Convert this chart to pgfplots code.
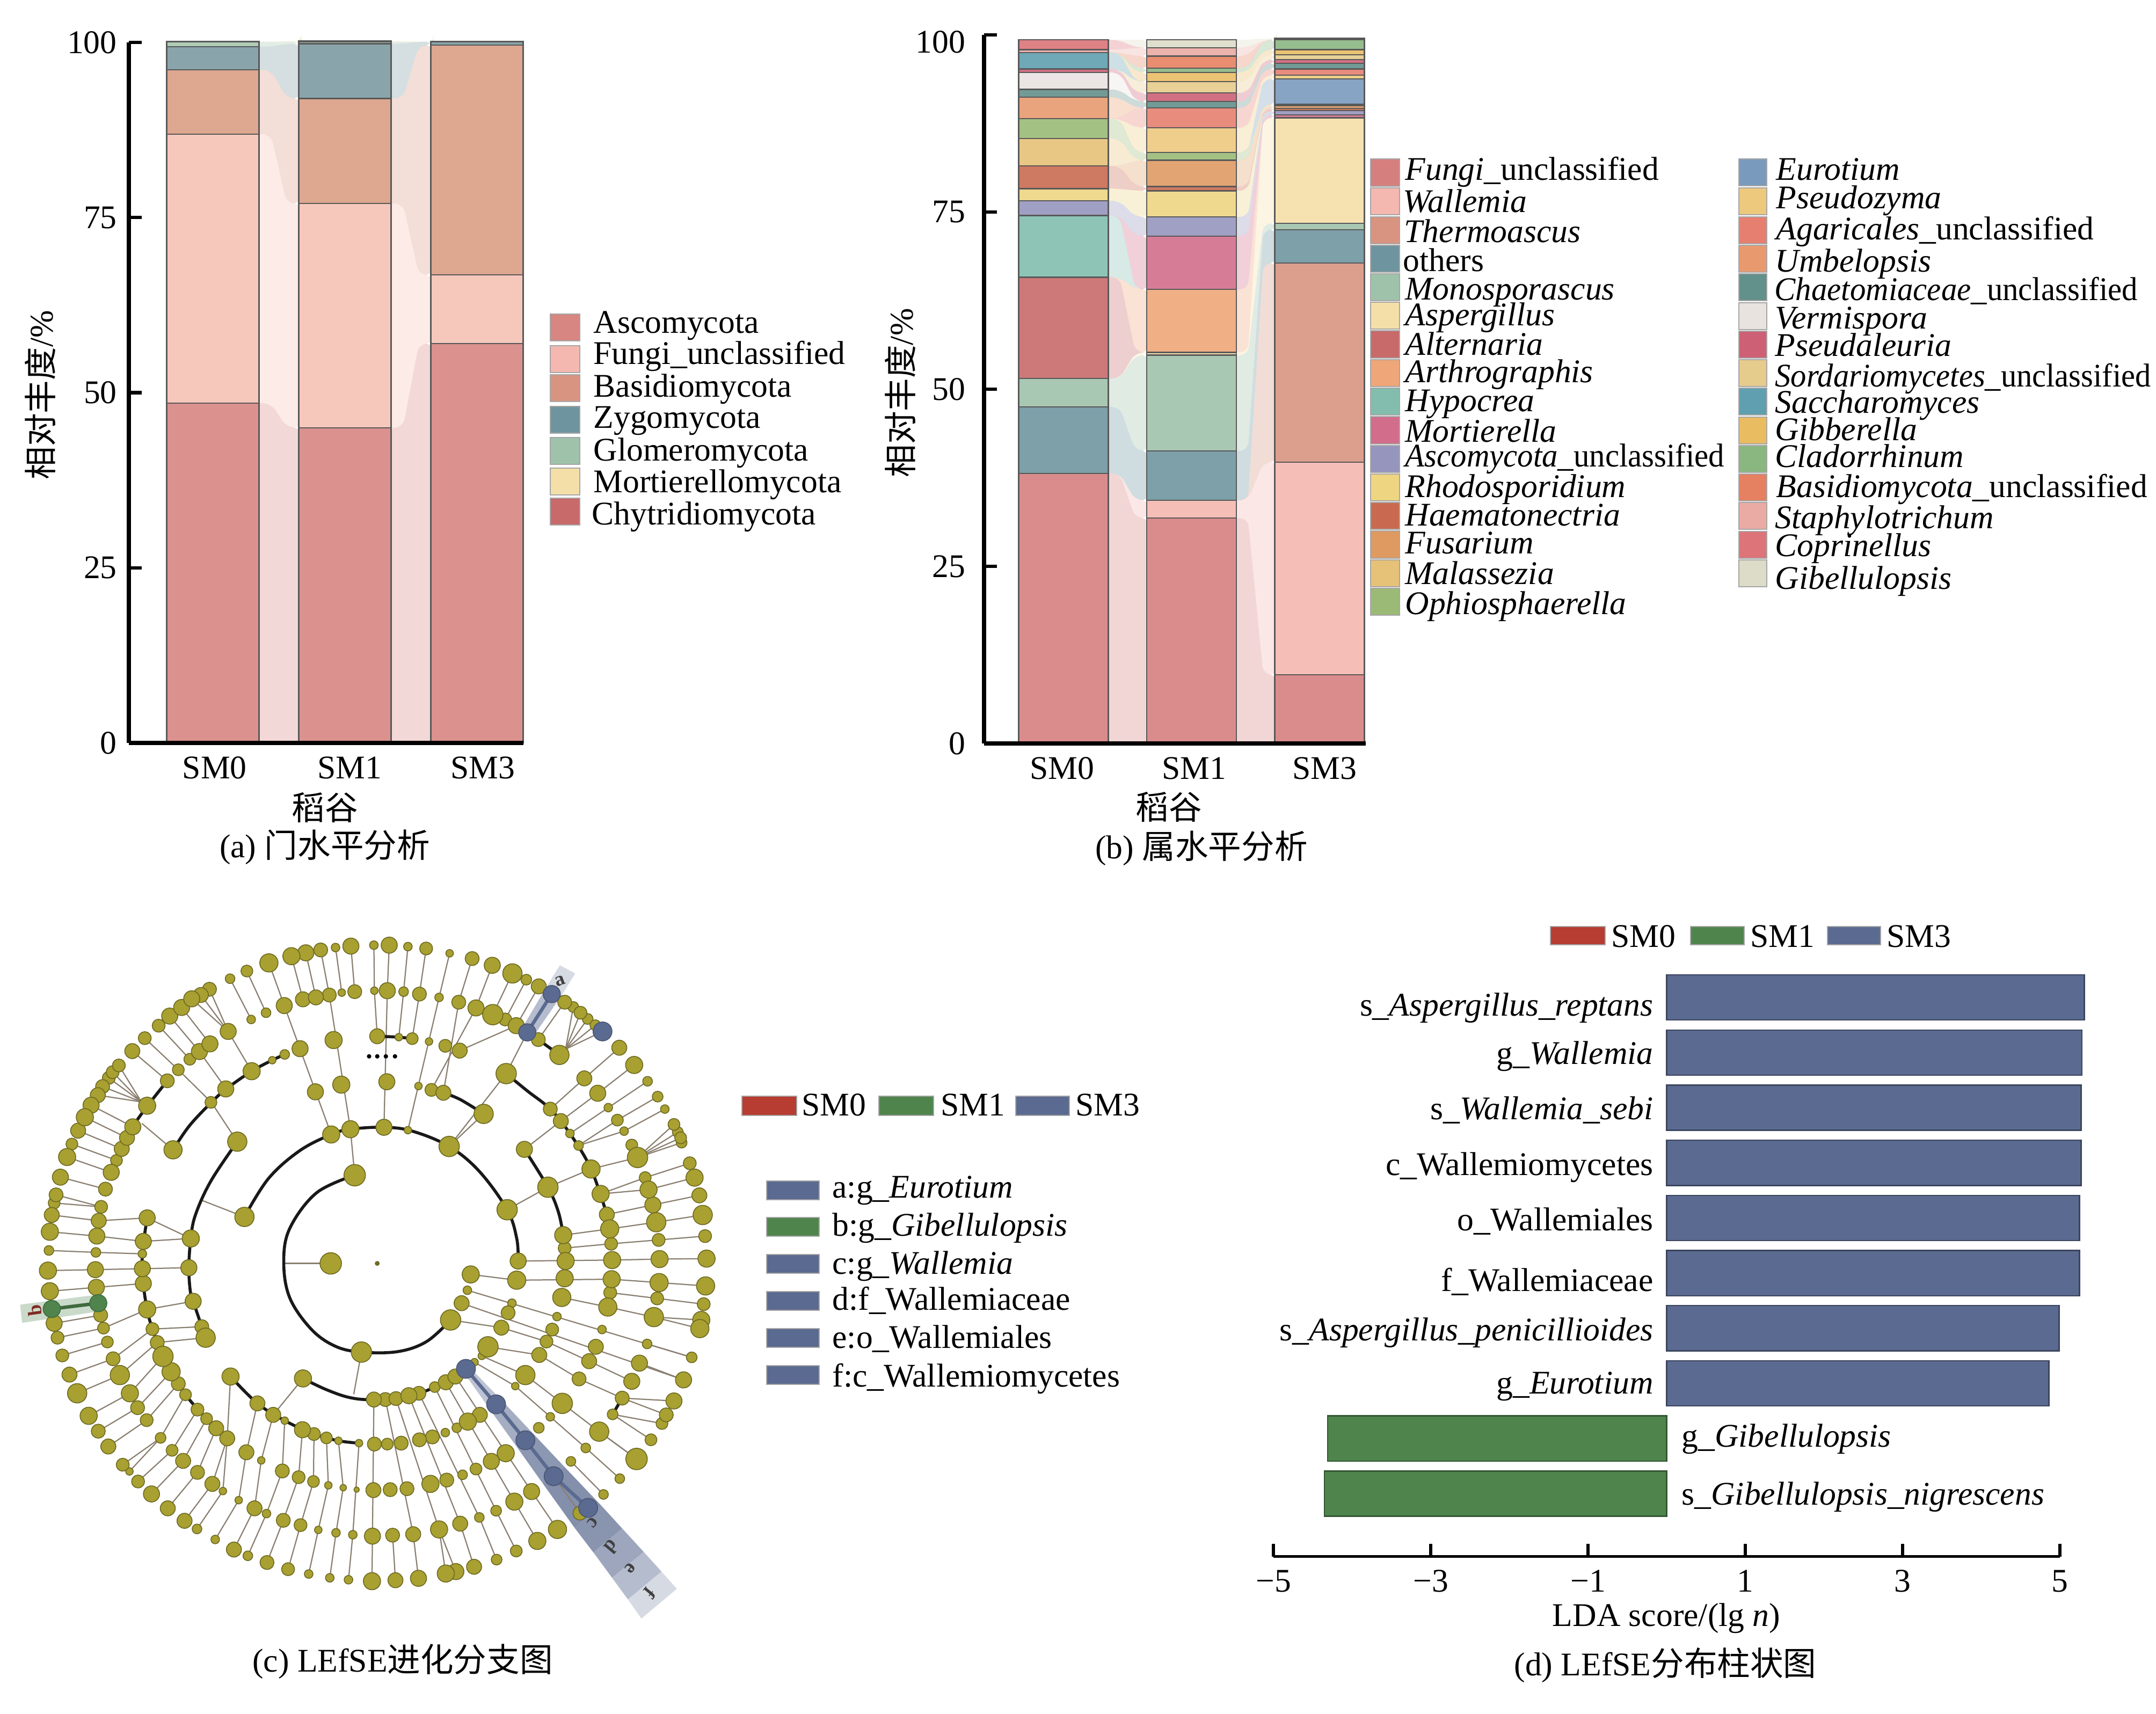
\documentclass[border=0pt]{standalone}
\usepackage{pgfplots}
\usepackage{pgfplotstable}
\pgfplotsset{compat=1.18}
\usepackage{fontspec}
\setmainfont{Liberation Serif}
\newfontfamily\cjk{Noto Sans CJK SC}
% phylum colours
\definecolor{aAsco}{HTML}{D78681}\definecolor{aFung}{HTML}{F5C2B5}\definecolor{aBasi}{HTML}{D99D84}
\definecolor{aZygo}{HTML}{7C9BA2}\definecolor{aGlom}{HTML}{A6C8AD}\definecolor{aMort}{HTML}{F5E1AA}\definecolor{aChyt}{HTML}{C76E6A}
% genus colours
\definecolor{g01}{HTML}{D67F7F}\definecolor{g02}{HTML}{F4B8B0}\definecolor{g03}{HTML}{D89480}\definecolor{g04}{HTML}{6E959F}
\definecolor{g05}{HTML}{9FC2AB}\definecolor{g06}{HTML}{F5DFA8}\definecolor{g07}{HTML}{C86A6A}\definecolor{g08}{HTML}{EFA678}
\definecolor{g09}{HTML}{82BDAE}\definecolor{g10}{HTML}{D26D8C}\definecolor{g11}{HTML}{9695BE}\definecolor{g12}{HTML}{EDD582}
\definecolor{g13}{HTML}{C96A50}\definecolor{g14}{HTML}{DF9A62}\definecolor{g15}{HTML}{E6C178}\definecolor{g16}{HTML}{9ABA76}
\definecolor{g17}{HTML}{7A9ABD}\definecolor{g18}{HTML}{EDC97E}\definecolor{g19}{HTML}{E67F70}\definecolor{g20}{HTML}{E89A6E}
\definecolor{g21}{HTML}{62908A}\definecolor{g22}{HTML}{E9E3E0}\definecolor{g23}{HTML}{CD6075}\definecolor{g24}{HTML}{E5CB8C}
\definecolor{g25}{HTML}{5F9FB0}\definecolor{g26}{HTML}{E9BC62}\definecolor{g27}{HTML}{8AB680}\definecolor{g28}{HTML}{E58060}
\definecolor{g29}{HTML}{E9ABA3}\definecolor{g30}{HTML}{DC7479}\definecolor{g31}{HTML}{DDDCC8}
\definecolor{kRed}{HTML}{B73C32}\definecolor{kGreen}{HTML}{4F854D}\definecolor{kBlue}{HTML}{5B6A90}
\definecolor{nOlive}{HTML}{A8A030}\definecolor{nEdge}{HTML}{6E6A22}\definecolor{nLine}{HTML}{8A7F70}
\newcommand\fs{\fontsize{7.7}{9}\selectfont}
\newcommand\TL[3]{\node[anchor=base west,inner sep=0pt] at ({#1*.125pt},{(3192-#2)*.125pt}) {#3};}
\newcommand\TR[3]{\node[anchor=base east,inner sep=0pt] at ({#1*.125pt},{(3192-#2)*.125pt}) {#3};}
\newcommand\TC[3]{\node[anchor=center,inner sep=0pt] at ({#1*.125pt},{(3192-#2)*.125pt}) {#3};}
\newcommand\SW[6]{\fill[#6,draw=black!35,line width=.25pt] ({#1*.125pt},{(3192-#2)*.125pt}) rectangle ({#3*.125pt},{(3192-#4)*.125pt});}
% stacks: \G{colour}{SM0}{SM1}{SM3}
\newcommand\phylumlist{%
\G{aAsco}{48.5}{45.0}{57.0}\G{aFung}{38.4}{32.0}{9.8}\G{aBasi}{9.2}{15.0}{32.8}\G{aZygo}{3.3}{7.8}{0.5}%
\G{aGlom}{0.7}{0.3}{0.0}\G{aMort}{0.0}{0.1}{0.0}\G{aChyt}{0.0}{0.0}{0.0}}
\newcommand\genuslist{%
\G{g01}{38.1}{31.8}{9.7}\G{g02}{0.0}{2.5}{30.0}\G{g03}{0.0}{0.0}{28.1}\G{g04}{9.4}{7.0}{4.7}%
\G{g05}{4.0}{13.5}{0.9}\G{g06}{0.0}{0.4}{14.9}\G{g07}{14.3}{0.0}{0.0}\G{g08}{0.0}{8.9}{0.0}%
\G{g09}{8.7}{0.0}{0.0}\G{g10}{0.0}{7.5}{0.4}\G{g11}{2.1}{2.7}{0.6}\G{g12}{1.7}{3.7}{0.0}%
\G{g13}{3.2}{0.6}{0.3}\G{g14}{0.0}{3.7}{0.4}\G{g15}{3.9}{0.0}{0.2}\G{g16}{2.8}{1.1}{0.0}%
\G{g17}{0.0}{0.0}{3.6}\G{g18}{0.0}{3.5}{0.5}\G{g19}{0.0}{2.8}{0.9}\G{g20}{3.0}{0.0}{0.0}%
\G{g21}{1.1}{0.9}{0.8}\G{g22}{2.4}{0.0}{0.0}\G{g23}{0.5}{1.2}{0.5}\G{g24}{0.0}{1.6}{0.7}%
\G{g25}{2.3}{0.0}{0.0}\G{g26}{0.0}{1.3}{0.7}\G{g27}{0.0}{0.6}{1.4}\G{g28}{0.0}{1.7}{0.0}%
\G{g29}{0.4}{1.2}{0.0}\G{g30}{1.4}{0.0}{0.0}\G{g31}{0.0}{1.1}{0.2}}
\pgfplotsset{ribbon/.style={forget plot,draw=none,fill opacity=.32,rounded corners=2pt,mark=none}}
\newcommand\ribbons[1]{%
 \gdef\aC{0}\gdef\bC{0}\gdef\cC{0}%
 \def\G##1##2##3##4{%
  \pgfmathsetmacro\aN{\aC+##2}\pgfmathsetmacro\bN{\bC+##3}\pgfmathsetmacro\cN{\cC+##4}%
  \ifdim\dimexpr ##2pt+##3pt\relax>0pt
  \edef\tmp{\noexpand\addplot[ribbon,fill=##1] coordinates {(.33,\aC)(.44,\aC)(.56,\bC)(.67,\bC)(.67,\bN)(.56,\bN)(.44,\aN)(.33,\aN)};}\tmp
  \fi
  \ifdim\dimexpr ##3pt+##4pt\relax>0pt
  \edef\tmp{\noexpand\addplot[ribbon,fill=##1] coordinates {(1.33,\bC)(1.44,\bC)(1.56,\cC)(1.67,\cC)(1.67,\cN)(1.56,\cN)(1.44,\bN)(1.33,\bN)};}\tmp
  \fi
  \xdef\aC{\aN}\xdef\bC{\bN}\xdef\cC{\cN}}%
 #1}
\newcommand\stackbars[1]{\def\G##1##2##3##4{\edef\tmp{\noexpand\addplot[fill=##1!90!white] coordinates {(0,##2)(1,##3)(2,##4)};}\tmp}#1}
\pgfplotsset{stackaxis/.style={scale only axis,clip=false,ymin=0,ymax=100,axis on top,
  ybar stacked,bar width=.7,
  axis lines=left,axis line style={-,line width=.9pt},
  ytick={0,25,50,75,100},yticklabels={0,25,50,75,100},
  major tick length=3pt,tick align=inside,
  y tick style={black,line width=.8pt},x tick style={draw=none},
  tick label style={font=\fs,inner sep=0pt},
  yticklabel style={xshift=-2.6pt},xticklabel style={yshift=-3pt},
  xticklabels={SM0,SM1,SM3},
  every axis plot/.append style={draw=black!65,line width=.3pt,bar shift=0pt}}}
% cladogram nodes: x y r
\pgfplotstableread{
x y r
780 68 8
812 68 15
851 71 8
889 75 12
938 85 7
985 96 13
1027 110 15
1069 127 18
1098 140 10
1124 154 14
1178 187 13
1196 197 10
1211 209 12
1226 222 10
1242 235 10
1292 282 14
1323 318 16
1351 352 9
1372 384 10
1387 410 8
1406 442 11
1414 458 10
1420 470 11
1422 480 10
1439 523 12
1449 553 16
1459 590 14
1466 631 18
1471 675 12
1474 722 16
1472 779 17
1468 817 12
1463 850 16
1460 868 17
1443 928 10
1426 975 15
1406 1019 15
1390 1048 13
1381 1066 11
1358 1100 11
1328 1140 20
1293 1181 9
1259 1214 9
1210 1253 13
1163 1287 17
1121 1311 16
1077 1332 11
1036 1350 10
989 1365 14
951 1375 15
930 1379 16
873 1389 15
825 1393 14
776 1395 16
727 1392 8
688 1388 8
644 1380 8
601 1370 12
557 1356 13
517 1342 9
488 1329 14
449 1308 8
411 1286 9
385 1269 14
350 1243 14
316 1213 15
288 1187 12
270 1166 7
256 1152 12
226 1114 14
205 1082 13
185 1050 16
161 1003 18
145 964 14
130 924 12
120 887 12
113 857 15
104 790 16
100 747 16
102 705 9
104 666 16
108 631 14
113 606 11
117 589 13
126 552 15
140 510 16
150 483 11
163 455 14
177 427 16
190 402 15
204 381 14
214 363 13
227 345 12
235 333 12
248 319 12
276 289 14
302 262 12
331 236 12
354 216 15
379 198 15
400 180 15
419 172 14
437 160 13
480 138 9
515 122 11
561 105 17
608 91 16
638 84 15
669 78 13
700 73 8
732 70 15
781 163 7
808 163 15
842 165 9
875 170 13
916 177 8
957 187 13
993 199 15
1028 213 19
1054 223 12
1077 236 15
1123 265 13
1167 297 18
1219 346 14
1247 377 15
1269 407 8
1288 433 11
1302 456 8
1318 485 11
1330 511 19
1346 553 11
1353 578 16
1362 610 15
1369 646 18
1374 683 12
1376 723 16
1375 772 17
1371 805 12
1364 844 18
1350 900 9
1334 940 15
1318 978 15
1298 1013 13
1278 1047 10
1250 1083 18
1222 1117 9
1191 1145 9
1109 1208 15
1073 1229 16
1035 1248 10
1000 1262 9
960 1275 14
916 1287 16
862 1297 14
819 1299 13
777 1301 15
736 1298 8
701 1294 8
664 1288 7
627 1278 12
591 1268 13
556 1254 8
531 1243 14
498 1226 7
465 1207 7
443 1192 14
412 1168 13
382 1144 14
359 1122 11
335 1096 10
306 1059 12
287 1033 13
271 1003 16
250 965 18
236 931 13
224 896 11
216 867 11
210 840 13
201 782 15
199 745 15
200 709 9
202 675 15
206 643 14
211 614 12
220 577 13
232 542 15
243 517 11
254 493 14
265 470 14
277 447 15
307 403 16
349 351 13
372 328 11
396 306 11
416 290 15
438 274 15
476 248 15
524 223 8
555 209 9
593 194 15
632 181 14
659 177 14
687 172 13
713 167 7
740 165 13
787 258 14
832 260 7
860 263 11
895 269 7
929 278 12
959 288 14
807 353 15
873 362 7
900 370 12
925 376 14
1009 420 18
1056 336 19
1148 410 13
1170 435 14
1189 461 8
1207 486 9
1233 535 17
1253 587 16
1266 630 14
1272 660 17
1275 691 12
1277 725 16
1276 765 16
1273 793 12
1268 823 17
1094 494 15
1143 573 19
1175 673 16
1178 700 12
1180 727 16
1178 763 16
1172 803 17
1058 620 19
1081 727 15
1078 767 17
982 755 16
975 788 8
963 815 14
940 850 19
1068 815 8
1060 835 13
1046 866 14
1018 906 19
990 938 7
1005 925 7
1162 843 8
1152 870 12
1140 895 12
1125 923 14
1096 965 18
1075 988 7
1243 906 14
1256 870 8
1229 936 14
1208 973 13
1173 1024 19
1148 1052 8
1124 1075 10
1055 1128 16
1025 1145 15
993 1161 11
965 1173 9
932 1184 13
898 1192 16
849 1202 13
814 1204 13
779 1205 14
744 1204 5
716 1200 6
685 1195 7
654 1187 11
623 1178 12
589 1165 13
545 1143 7
1001 1048 14
976 1062 16
953 1075 9
929 1085 8
902 1094 13
875 1100 13
837 1107 13
808 1109 11
781 1109 13
749 1107 7
706 1102 7
681 1096 11
655 1088 12
631 1079 15
594 1060 7
570 1048 14
537 1024 14
514 1126 14
474 1097 14
451 1076 14
431 1056 11
412 1037 12
387 1006 11
372 983 13
357 958 17
340 926 19
328 897 13
318 869 12
307 828 16
299 774 15
297 743 15
297 712 8
299 686 15
307 637 15
481 968 16
632 972 16
780 1016 14
804 1016 13
826 1014 13
853 1008 15
874 1003 13
907 990 10
930 980 14
950 968 14
754 917 19
403 811 15
421 864 13
429 887 18
394 741 15
398 680 16
510 635 18
495 478 18
361 495 17
740 548 20
690 732 20
691 463 16
731 452 16
801 448 15
851 454 7
937 488 19
658 374 15
712 359 16
696 266 16
626 284 15
594 296 9
568 308 7
525 331 16
471 368 15
440 396 11
}\nodeT
\begin{document}
\begin{tikzpicture}[font=\fs]
\useasboundingbox (0,0) rectangle (502pt,399pt);
% ---------- panel a ----------
\begin{axis}[at={(30pt,226pt)},anchor=south west,width=91.875pt,height=163.125pt,scale only axis,hide axis,clip=false,
  xmin=-.636,xmax=2.352,ymin=0,ymax=100]
\ribbons{\phylumlist}
\end{axis}
\begin{axis}[stackaxis,at={(30pt,226pt)},anchor=south west,width=91.875pt,height=163.125pt,
  xmin=-.636,xmax=2.352,xtick={0.014,1.035,2.043}]
\stackbars{\phylumlist}
\end{axis}
\TC{75}{736}{\rotatebox{90}{{\cjk 相对丰度}/\%}}
\TC{605}{1504}{\cjk 稻谷}
\TC{605}{1578}{(a) {\cjk 门水平分析}}
\SW{1025}{585}{1080}{635}{}{aAsco}\SW{1025}{644}{1080}{694}{}{g02}\SW{1025}{698}{1080}{748}{}{g03}
\SW{1025}{757}{1080}{807}{}{g04}\SW{1025}{815}{1080}{865}{}{g05}\SW{1025}{872}{1080}{922}{}{g06}\SW{1025}{928}{1080}{978}{}{g07}
\TL{1104}{621}{Ascomycota}\TL{1104}{679}{Fungi\_unclassified}\TL{1104}{740}{Basidiomycota}\TL{1104}{798}{Zygomycota}
\TL{1104}{859}{Glomeromycota}\TL{1104}{918}{Mortierellomycota}\TL{1101}{978}{Chytridiomycota}
% ---------- panel b ----------
\begin{axis}[at={(229.125pt,225.875pt)},anchor=south west,width=88.875pt,height=165pt,scale only axis,hide axis,clip=false,
  xmin=-.62,xmax=2.36,ymin=0,ymax=100]
\ribbons{\genuslist}
\end{axis}
\begin{axis}[stackaxis,at={(229.125pt,225.875pt)},anchor=south west,width=88.875pt,height=165pt,
  xmin=-.62,xmax=2.36,xtick={-0.012,1.019,2.038},yticklabel style={xshift=-1.6pt},
  yticklabels={0,25,50,75,\raisebox{-1.75pt}[5pt][0pt]{100}}]
\stackbars{\genuslist}
\end{axis}
\TC{1677}{732}{\rotatebox{90}{{\cjk 相对丰度}/\%}}
\TC{2177}{1503}{\cjk 稻谷}
\TC{2238}{1580}{(b) {\cjk 属水平分析}}
% legend column 1
\SW{2553}{296}{2607}{347}{}{g01}\SW{2553}{350}{2607}{400}{}{g02}\SW{2553}{404}{2607}{454}{}{g03}\SW{2553}{457}{2607}{507}{}{g04}
\SW{2553}{510}{2607}{560}{}{g05}\SW{2553}{563}{2607}{613}{}{g06}\SW{2553}{616}{2607}{667}{}{g07}\SW{2553}{670}{2607}{720}{}{g08}
\SW{2553}{723}{2607}{773}{}{g09}\SW{2553}{776}{2607}{827}{}{g10}\SW{2553}{830}{2607}{880}{}{g11}\SW{2553}{883}{2607}{933}{}{g12}
\SW{2553}{936}{2607}{986}{}{g13}\SW{2553}{989}{2607}{1040}{}{g14}\SW{2553}{1043}{2607}{1093}{}{g15}\SW{2553}{1096}{2607}{1146}{}{g16}
\TL{2616}{336}{\textit{Fungi}\_unclassified}\TL{2612}{396}{\textit{Wallemia}}\TL{2614}{452}{\textit{Thermoascus}}\TL{2612}{506}{others}
\TL{2616}{559}{\textit{Monosporascus}}\TL{2616}{607}{\textit{Aspergillus}}\TL{2616}{662}{\textit{Alternaria}}\TL{2616}{713}{\textit{Arthrographis}}
\TL{2616}{767}{\textit{Hypocrea}}\TL{2616}{824}{\textit{Mortierella}}\TL{2616}{870}{\scalebox{.955}[1]{\textit{Ascomycota}\_unclassified}}\TL{2616}{927}{\textit{Rhodosporidium}}
\TL{2616}{980}{\textit{Haematonectria}}\TL{2616}{1032}{\textit{Fusarium}}\TL{2616}{1089}{\textit{Malassezia}}\TL{2616}{1145}{\textit{Ophiosphaerella}}
% legend column 2
\SW{3239}{296}{3291}{346}{}{g17}\SW{3239}{350}{3291}{400}{}{g18}\SW{3239}{404}{3291}{454}{}{g19}\SW{3239}{457}{3291}{507}{}{g20}
\SW{3239}{510}{3291}{560}{}{g21}\SW{3239}{564}{3291}{614}{}{g22}\SW{3239}{617}{3291}{667}{}{g23}\SW{3239}{670}{3291}{720}{}{g24}
\SW{3239}{723}{3291}{773}{}{g25}\SW{3239}{777}{3291}{827}{}{g26}\SW{3239}{830}{3291}{880}{}{g27}\SW{3239}{883}{3291}{933}{}{g28}
\SW{3239}{936}{3291}{986}{}{g29}\SW{3239}{990}{3291}{1040}{}{g30}\SW{3239}{1043}{3291}{1093}{}{g31}
\TL{3307}{336}{\textit{Eurotium}}\TL{3307}{389}{\textit{Pseudozyma}}\TL{3307}{447}{\textit{Agaricales}\_unclassified}\TL{3305}{507}{\textit{Umbelopsis}}
\TL{3304}{560}{\scalebox{.955}[1]{\textit{Chaetomiaceae}\_unclassified}}\TL{3305}{613}{\textit{Vermispora}}\TL{3305}{664}{\textit{Pseudaleuria}}\TL{3305}{721}{\scalebox{.95}[1]{\textit{Sordariomycetes}\_unclassified}}
\TL{3305}{770}{\textit{Saccharomyces}}\TL{3305}{821}{\textit{Gibberella}}\TL{3305}{871}{\textit{Cladorrhinum}}\TL{3307}{927}{\textit{Basidiomycota}\_unclassified}
\TL{3305}{985}{\textit{Staphylotrichum}}\TL{3305}{1037}{\textit{Coprinellus}}\TL{3305}{1098}{\textit{Gibellulopsis}}
% ---------- panel c ----------
\begin{axis}[at={(0pt,186.5pt)},anchor=north west,width=175pt,height=175pt,scale only axis,hide axis,clip=false,
  xmin=0,xmax=1568,ymin=0,ymax=1568,y dir=reverse]
% highlight bands
\addplot[forget plot,draw=none,fill=kBlue!40!white] coordinates {(978,947)(1047,1018)(1023,1038)(966,957)};
\addplot[forget plot,draw=none,fill=kBlue!55!white] coordinates {(1047,1018)(1113,1088)(1079,1116)(1023,1038)};
\addplot[forget plot,draw=none,fill=kBlue!70!white] coordinates {(1113,1088)(1177,1156)(1133,1192)(1079,1116)};
\addplot[forget plot,draw=none,fill=kBlue!75!white] coordinates {(1177,1156)(1255,1238)(1199,1284)(1133,1192)};
\addplot[forget plot,draw=none,fill=kBlue!72!white] coordinates {(1255,1238)(1298,1285)(1238,1335)(1199,1284)};
\addplot[forget plot,draw=none,fill=kBlue!60!white] coordinates {(1298,1285)(1343,1334)(1277,1388)(1238,1335)};
\addplot[forget plot,draw=none,fill=kBlue!45!white] coordinates {(1343,1334)(1380,1375)(1310,1433)(1277,1388)};
\addplot[forget plot,draw=none,fill=kBlue!25!white] coordinates {(1380,1375)(1412,1411)(1338,1473)(1310,1433)};
\addplot[forget plot,draw=none,fill=kBlue!45!white] coordinates {(1090,240)(1140,155)(1172,172)(1110,262)};
\addplot[forget plot,draw=none,fill=kBlue!25!white] coordinates {(1140,155)(1168,110)(1200,127)(1172,172)};
\addplot[forget plot,draw=none,fill=kGreen!30!white] coordinates {(42,818)(205,797)(208,832)(46,856)};
% thin branches (x y x2 y2)
\addplot[forget plot,nLine,line width=.28pt,mark=none,quiver={u=\thisrow{x2}-\thisrow{x},v=\thisrow{y2}-\thisrow{y}}] table {
x y x2 y2
780 68 781 163
812 68 808 163
851 71 842 165
889 75 875 170
938 85 916 177
985 96 957 187
1027 110 993 199
1069 127 1028 213
1098 140 1054 223
1124 154 1077 236
1178 187 1123 265
1196 197 1180 285
1211 209 1180 285
1226 222 1180 285
1242 235 1180 285
1257 248 1180 285
1292 282 1219 346
1323 318 1247 377
1351 352 1269 407
1372 384 1288 433
1387 410 1302 456
1406 442 1330 511
1414 458 1330 511
1420 470 1330 511
1422 480 1330 511
1439 523 1346 553
1449 553 1353 578
1459 590 1362 610
1466 631 1369 646
1471 675 1374 683
1474 722 1376 723
1472 779 1375 772
1468 817 1371 805
1463 850 1364 844
1460 868 1364 844
1443 928 1350 900
1426 975 1334 940
1406 1019 1298 1013
1390 1048 1298 1013
1381 1066 1278 1047
1358 1100 1278 1047
1328 1140 1250 1083
1293 1181 1222 1117
1259 1214 1191 1145
1210 1253 1155 1176
1163 1287 1109 1208
1121 1311 1073 1229
1077 1332 1035 1248
1036 1350 1000 1262
989 1365 960 1275
951 1375 916 1287
930 1379 916 1287
873 1389 862 1297
825 1393 819 1299
776 1395 777 1301
727 1392 736 1298
688 1388 701 1294
644 1380 664 1288
601 1370 627 1278
557 1356 591 1268
517 1342 556 1254
488 1329 531 1243
449 1308 498 1226
411 1286 465 1207
385 1269 443 1192
350 1243 412 1168
316 1213 382 1144
288 1187 359 1122
270 1166 335 1096
256 1152 335 1096
226 1114 306 1059
205 1082 287 1033
185 1050 271 1003
161 1003 250 965
145 964 236 931
130 924 224 896
120 887 216 867
113 857 210 840
104 790 201 782
100 747 199 745
102 705 200 709
104 666 202 675
108 631 206 643
113 606 211 614
117 589 211 614
126 552 220 577
140 510 232 542
150 483 243 517
163 455 254 493
177 427 265 470
190 402 277 447
204 381 295 395
214 363 295 395
227 345 295 395
235 333 295 395
248 319 295 395
276 289 349 351
302 262 372 328
331 236 396 306
354 216 416 290
379 198 438 274
400 180 476 248
419 172 476 248
437 160 476 248
480 138 524 223
515 122 555 209
561 105 593 194
608 91 632 181
638 84 659 177
669 78 687 172
700 73 713 167
732 70 740 165
781 163 787 258
808 163 801 448
842 165 832 260
875 170 860 263
916 177 851 454
957 187 925 376
993 199 900 370
1077 236 959 288
1100 250 1056 336
1056 336 937 488
1009 420 937 488
1219 346 1148 410
1247 377 1170 435
1269 407 1189 461
1288 433 1207 486
1302 456 1207 486
1330 511 1233 535
1346 553 1253 587
1353 578 1253 587
1362 610 1266 630
1369 646 1272 660
1374 683 1275 691
1376 723 1277 725
1375 772 1276 765
1371 805 1273 793
1364 844 1268 823
1170 435 1094 494
1233 535 1143 573
1143 573 1058 620
1272 660 1175 673
1275 691 1178 700
1277 725 1081 727
1276 765 1078 767
1268 823 1172 803
1078 767 982 755
975 788 1443 928
963 815 1426 975
940 850 1046 866
1046 866 1140 895
1140 895 1229 936
1229 936 1318 978
1018 906 1125 923
1125 923 1208 973
1208 973 1298 1013
1005 925 1096 965
1096 965 1173 1024
1173 1024 1250 1083
1250 1083 1328 1140
990 938 1075 988
1075 988 1148 1052
1148 1052 1222 1117
950 968 1109 1208
930 980 1073 1229
907 990 1035 1248
874 1003 1000 1262
853 1008 960 1275
826 1014 916 1287
804 1016 862 1297
780 1016 777 1301
749 1107 736 1298
706 1102 716 1200
716 1200 701 1294
681 1096 685 1195
685 1195 664 1288
655 1088 654 1187
654 1187 627 1278
631 1079 623 1178
623 1178 591 1268
594 1060 589 1165
589 1165 556 1254
570 1048 545 1143
545 1143 531 1243
537 1024 514 1126
514 1126 498 1226
481 968 474 1097
474 1097 443 1192
465 1207 474 1097
451 1076 412 1168
431 1056 382 1144
412 1037 359 1122
387 1006 335 1096
372 983 306 1059
357 958 287 1033
340 926 271 1003
328 897 250 965
318 869 236 931
429 887 328 897
421 864 318 869
403 811 307 828
307 828 216 867
394 741 297 743
398 680 299 686
398 680 307 637
299 774 201 782
297 743 199 745
297 712 200 709
299 686 202 675
307 637 206 643
510 635 420 600
495 478 441 396
361 495 296 440
691 463 593 194
731 452 740 548
731 452 687 172
754 917 738 1005
632 972 570 1048
690 732 592 732
525 331 476 248
472 368 416 290
441 396 372 328
};
% thick arcs
\pgfplotsset{arcline/.style={forget plot,black!90,line width=.7pt,smooth,tension=.6,mark=none}}
\addplot[arcline] coordinates {(740,548)(660,585)(604,660)(592,732)(605,805)(650,870)(700,905)(754,917)(830,916)(890,895)(940,850)};
\addplot[arcline] coordinates {(510,635)(560,555)(625,497)(691,463)(731,452)(801,448)(860,456)(937,488)(1000,540)(1058,620)(1078,680)(1081,727)};
\addplot[arcline] coordinates {(495,478)(440,560)(408,630)(398,680)(394,741)(397,790)(403,811)(421,864)};
\addplot[arcline] coordinates {(361,495)(395,445)(441,396)(472,368)(525,331)(568,308)(594,296)};
\addplot[arcline] coordinates {(1094,494)(1143,573)(1165,625)(1175,673)};
\addplot[arcline] coordinates {(632,972)(680,995)(730,1012)(780,1016)(853,1008)(907,990)(972,952)};
\addplot[arcline] coordinates {(481,968)(537,1024)(594,1060)(655,1088)(706,1102)(749,1107)};
\addplot[arcline] coordinates {(1056,336)(1100,372)(1148,410)(1189,461)(1233,535)(1266,630)};
\addplot[arcline] coordinates {(925,376)(960,390)(1009,420)};
\addplot[arcline] coordinates {(1123,265)(1167,297)};
\addplot[arcline] coordinates {(787,258)(832,260)(860,263)};
\addplot[arcline] coordinates {(349,351)(308,403)(277,447)(254,493)(232,542)};
\addplot[arcline] coordinates {(307,637)(297,712)(299,774)(307,828)(318,869)(340,926)(357,958)(387,1006)(431,1056)(474,1097)};
\addplot[arcline] coordinates {(1298,1013)(1278,1047)};
% coloured clades
\addplot[forget plot,kBlue,line width=.8pt,mark=none] coordinates {(972,952)(1035,1026)(1096,1101)(1155,1176)(1227,1242)};
\addplot[forget plot,kBlue,line width=.8pt,mark=none] coordinates {(1100,250)(1151,170)};
\addplot[forget plot,kGreen!80!black,line width=.8pt,mark=none] coordinates {(108,827)(205,815)};
% dots
\addplot[forget plot,only marks,mark=*,mark size=.3pt,black] coordinates {(770,300)(787,300)(805,300)(824,300)};
\addplot[forget plot,only marks,mark=*,mark size=.35pt,nEdge] coordinates {(787,732)};
% nodes, one plot per node size
\pgfplotsinvokeforeach{5,...,20}{
\addplot[forget plot,only marks,mark=*,mark size={#1*0.125},mark options={draw=nEdge,fill=nOlive,line width=.2pt},
  restrict expr to domain={abs(\thisrow{r}-#1)}{0:0.4}] table {\nodeT};
}
\addplot[forget plot,only marks,mark=*,mark size=2pt,mark options={draw=kBlue!80!black,fill=kBlue,line width=.2pt}] coordinates {(1151,170)(1100,250)};
\addplot[forget plot,only marks,mark=*,mark size=2.2pt,mark options={draw=kBlue!80!black,fill=kBlue,line width=.2pt}] coordinates {(1257,248)(972,952)(1035,1026)(1096,1101)(1155,1176)(1227,1242)};
\addplot[forget plot,only marks,mark=*,mark size=2pt,mark options={draw=kGreen!80!black,fill=kGreen,line width=.2pt}] coordinates {(108,827)(205,815)};
\node[rotate=20,font=\fontsize{4.6}{5}\selectfont\bfseries,text=black!75] at (axis cs:1168,143) {a};
\node[rotate=98,font=\fontsize{4.6}{5}\selectfont\bfseries,text=kRed!70!black] at (axis cs:72,830) {b};
\node[rotate=230,font=\fontsize{4.6}{5}\selectfont\bfseries,text=black!75] at (axis cs:1236,1273) {c};
\node[rotate=230,font=\fontsize{4.6}{5}\selectfont\bfseries,text=black!75] at (axis cs:1276,1323) {d};
\node[rotate=230,font=\fontsize{4.6}{5}\selectfont\bfseries,text=black!75] at (axis cs:1315,1368) {e};
\node[rotate=230,font=\fontsize{4.6}{5}\selectfont\bfseries,text=black!75] at (axis cs:1356,1420) {f};
\end{axis}
\TC{750}{3095}{(c) LEfSE{\cjk 进化分支图}}
% panel c legends
\SW{1382}{2042}{1484}{2078}{}{kRed}\SW{1637}{2042}{1739}{2078}{}{kGreen}\SW{1892}{2042}{1992}{2078}{}{kBlue}
\TL{1492}{2078}{SM0}\TL{1751}{2078}{SM1}\TL{2002}{2078}{SM3}
\SW{1428}{2200}{1526}{2235}{}{kBlue}\SW{1428}{2268}{1526}{2303}{}{kGreen}\SW{1428}{2337}{1526}{2372}{}{kBlue}
\SW{1428}{2406}{1526}{2441}{}{kBlue}\SW{1428}{2475}{1526}{2510}{}{kBlue}\SW{1428}{2544}{1526}{2579}{}{kBlue}
\TL{1549}{2231}{a:g\_\textit{Eurotium}}\TL{1549}{2302}{b:g\_\textit{Gibellulopsis}}\TL{1549}{2373}{c:g\_\textit{Wallemia}}
\TL{1549}{2440}{d:f\_Wallemiaceae}\TL{1549}{2511}{e:o\_Wallemiales}\TL{1549}{2583}{f:c\_Wallemiomycetes}
% ---------- panel d ----------
\begin{axis}[at={(296.5pt,36.5625pt)},anchor=south west,width=183.125pt,height=137.875pt,scale only axis,clip=false,
  xmin=-5,xmax=5,ymin=-1.14,ymax=9.6,
  axis x line=bottom,axis y line=none,axis line style={-,line width=.7pt},
  xtick={-5,-3,-1,1,3,5},xticklabels={−5,−3,−1,1,3,5},
  major tick length=3pt,tick align=inside,x tick style={black,line width=.7pt},
  tick label style={font=\fs,inner sep=0pt},xticklabel style={yshift=-3pt},
  xbar,bar width=.82,
  every axis plot/.append style={bar shift=0pt,line width=.3pt}]
\addplot[fill=kBlue,draw=kBlue!65!black] coordinates {(5.31,9)(5.28,8)(5.27,7)(5.27,6)(5.25,5)(5.25,4)(4.99,3)(4.86,2)};
\addplot[fill=kGreen,draw=kGreen!65!black] coordinates {(-4.31,1)(-4.35,0)};
\end{axis}
\TR{3081}{1892}{s\_\textit{Aspergillus\_reptans}}\TR{3081}{1982}{g\_\textit{Wallemia}}\TR{3081}{2085}{s\_\textit{Wallemia\_sebi}}
\TR{3081}{2189}{c\_Wallemiomycetes}\TR{3081}{2292}{o\_Wallemiales}\TR{3081}{2405}{f\_Wallemiaceae}
\TR{3081}{2497}{s\_\textit{Aspergillus\_penicillioides}}\TR{3081}{2596}{g\_\textit{Eurotium}}
\TL{3131}{2695}{g\_\textit{Gibellulopsis}}\TL{3131}{2803}{s\_\textit{Gibellulopsis\_nigrescens}}
\TC{3104}{3015}{LDA score/(lg \textit{n})}
\TC{3102}{3102}{(d) LEfSE{\cjk 分布柱状图}}
\SW{2888}{1726}{2990}{1760}{}{kRed}\SW{3149}{1726}{3249}{1760}{}{kGreen}\SW{3404}{1726}{3503}{1760}{}{kBlue}
\TL{3000}{1764}{SM0}\TL{3259}{1764}{SM1}\TL{3513}{1764}{SM3}
\end{tikzpicture}
\end{document}
